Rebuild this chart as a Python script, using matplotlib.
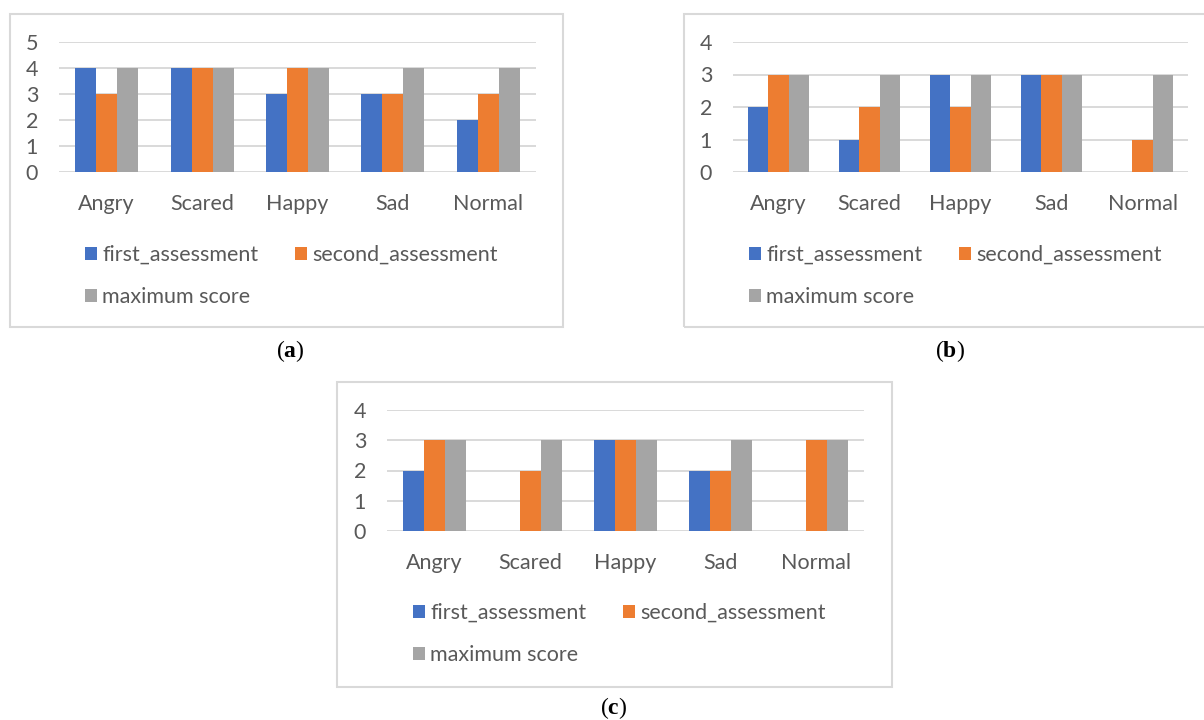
import matplotlib
matplotlib.use('Agg')
import matplotlib.pyplot as plt
from matplotlib.patches import Rectangle
import numpy as np

plt.rcParams['font.family'] = ['Lato', 'DejaVu Sans']
plt.rcParams['mathtext.fontset'] = 'custom'
plt.rcParams['mathtext.bf'] = 'Liberation Serif:bold'
plt.rcParams['mathtext.rm'] = 'Liberation Serif'

categories = ['Angry', 'Scared', 'Happy', 'Sad', 'Normal']
series_names = ['first_assessment', 'second_assessment', 'maximum score']

a_first = [4, 4, 3, 3, 2]
a_second = [3, 4, 4, 3, 3]
a_max = [4, 4, 4, 4, 4]

b_first = [2, 1, 3, 3, 0]
b_second = [3, 2, 2, 3, 1]
b_max = [3, 3, 3, 3, 3]

c_first = [2, 0, 3, 2, 0]
c_second = [3, 2, 3, 2, 3]
c_max = [3, 3, 3, 3, 3]

colors = ['#4472C4', '#ED7D31', '#A5A5A5']
txt = '#595959'
grid = '#D9D9D9'
fs = 15.5

W, H = 1204, 720
fig = plt.figure(figsize=(W / 100, H / 100), dpi=100)


def px_rect(x0, y0, x1, y1):
    # pixel box (top-left origin) -> figure fraction [l, b, w, h]
    return [x0 / W, 1 - y1 / H, (x1 - x0) / W, (y1 - y0) / H]


def panel(axrect, box, data, ymax, leg_xy, label, label_xy):
    l, b, w, h = px_rect(*box)
    fig.patches.append(Rectangle((l, b), w, h, transform=fig.transFigure,
                                 facecolor='none', edgecolor=grid, lw=1.5))
    ax = fig.add_axes(px_rect(*axrect))
    x = np.arange(len(categories))
    bw = 0.22
    bars = []
    for i, vals in enumerate(data):
        bars.append(ax.bar(x + (i - 1) * bw, vals, bw, color=colors[i],
                           label=series_names[i], zorder=3))
    ax.set_xlim(-0.5, len(categories) - 0.5)
    ax.set_ylim(0, ymax)
    ax.set_yticks(range(ymax + 1))
    ax.set_xticks(x)
    ax.set_xticklabels(categories)
    for s in ax.spines.values():
        s.set_visible(False)
    ax.yaxis.grid(True, color=grid, lw=1.4, zorder=0)
    ax.set_axisbelow(True)
    ax.tick_params(axis='y', length=0, pad=15, labelsize=fs, labelcolor=txt)
    ax.tick_params(axis='x', length=0, pad=16, labelsize=fs, labelcolor=txt)
    # row-major order: first, second / maximum
    order = [0, 2, 1]
    leg = ax.legend([bars[i] for i in order], [series_names[i] for i in order],
                    ncol=2, loc='upper left', frameon=False,
                    bbox_to_anchor=(leg_xy[0] / W, 1 - leg_xy[1] / H),
                    bbox_transform=fig.transFigure, borderpad=0, borderaxespad=0,
                    handlelength=0.56, handleheight=0.56, handletextpad=0.25,
                    columnspacing=1.7, labelspacing=1.02, fontsize=fs)
    for t in leg.get_texts():
        t.set_color(txt)
    fig.text(label_xy[0] / W, 1 - label_xy[1] / H,
             '(' + r'$\mathbf{' + label + '}$' + ')',
             family='Liberation Serif', fontsize=17, ha='center', va='center')


panel((59, 42, 536, 172), (10, 14, 563, 327), [a_first, a_second, a_max], 5,
      (85, 245), 'a', (290, 351))
panel((733, 42, 1188, 172), (684, 14, 1212, 327), [b_first, b_second, b_max], 4,
      (749, 245), 'b', (950, 351))
panel((387, 410, 864, 531), (337, 382, 892, 687), [c_first, c_second, c_max], 4,
      (413, 603), 'c', (614, 708))

fig.savefig('out.png', dpi=100)
